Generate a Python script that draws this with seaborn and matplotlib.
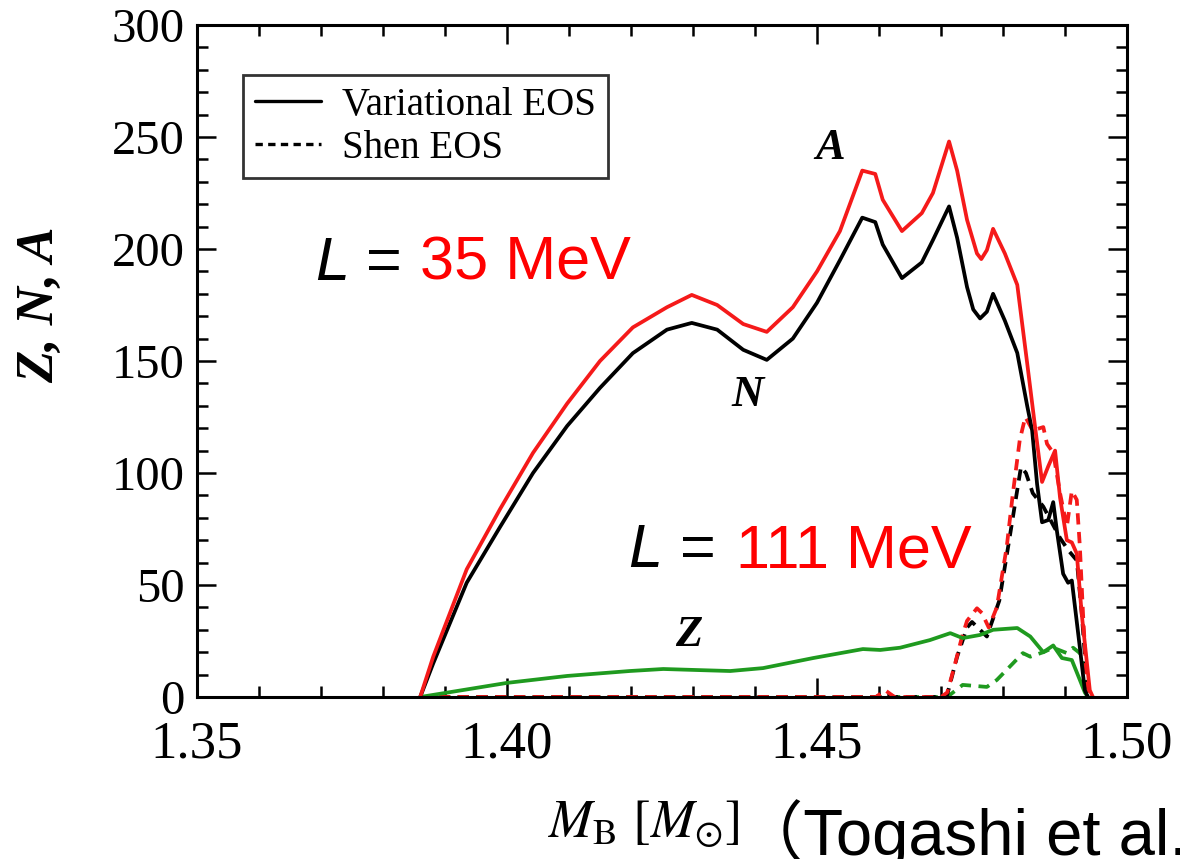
import numpy as np
import pandas as pd
import matplotlib
matplotlib.use("Agg")
import matplotlib.pyplot as plt
import seaborn as sns
from matplotlib.ticker import MultipleLocator
from matplotlib.lines import Line2D

# ---- data: baryon mass M_B [M_sun] vs nuclear numbers ----
# Variational EOS, L = 35 MeV
var_A_mass = [1.3860, 1.3881, 1.3935, 1.3989, 1.4042, 1.4097, 1.4150, 1.4203, 1.4258, 1.4298,
              1.4339, 1.4381, 1.4419, 1.4461, 1.4500, 1.4537, 1.4573, 1.4594, 1.4606, 1.4637,
              1.4669, 1.4687, 1.4713, 1.4726, 1.4742, 1.4758, 1.4765, 1.4774, 1.4784, 1.4803,
              1.4823, 1.4839, 1.4852, 1.4863, 1.4873, 1.4884, 1.4892, 1.4903, 1.4911, 1.4919,
              1.4927, 1.4940, 1.4945]
var_A = [0, 18, 57, 84, 109, 131, 150, 165, 174, 179.5,
         175, 166.5, 163, 174, 190, 208, 235, 233.5, 222, 208,
         216, 225, 248, 235, 213, 198, 195.5, 199.5, 209, 198,
         184, 149, 120, 96, 103, 110, 89, 70, 69, 64,
         37, 3, 0]

var_N_mass = [1.3860, 1.3881, 1.3935, 1.3989, 1.4042, 1.4097, 1.4150, 1.4203, 1.4258, 1.4298,
              1.4339, 1.4381, 1.4419, 1.4461, 1.4500, 1.4537, 1.4573, 1.4594, 1.4606, 1.4637,
              1.4669, 1.4687, 1.4713, 1.4726, 1.4742, 1.4752, 1.4763, 1.4774, 1.4784, 1.4803,
              1.4823, 1.4839, 1.4847, 1.4855, 1.4863, 1.4873, 1.4881, 1.4887, 1.4897, 1.4905,
              1.4911, 1.4924, 1.4932, 1.4937]
var_N = [0, 15, 51, 76, 100, 121, 138, 153.5, 164, 167,
         164, 155, 150.5, 160, 176, 195, 214, 212, 202, 187,
         194, 204, 219, 205, 183, 173, 169, 172, 180, 168,
         153.6, 130, 119, 95, 78, 79, 87, 74, 55, 51,
         52, 22, 3, 0]

var_Z_mass = [1.3860, 1.4000, 1.4097, 1.4198, 1.4252, 1.4311, 1.4360, 1.4413, 1.4494, 1.4574,
              1.4602, 1.4634, 1.4682, 1.4715, 1.4735, 1.4763, 1.4784, 1.4823, 1.4844, 1.4865,
              1.4881, 1.4895, 1.4911, 1.4924, 1.4932, 1.4937]
var_Z = [0, 6.3, 9.4, 11.6, 12.5, 12, 11.6, 12.9, 17.4, 21.4,
         21, 22, 25.4, 28.5, 26.3, 27.7, 30, 30.8, 27, 20,
         23, 17.4, 16.5, 7.6, 2, 0]

# Shen EOS, L = 111 MeV
shen_A_mass = [1.3860, 1.4595, 1.4610, 1.4625, 1.4700, 1.4710, 1.4721, 1.4734, 1.4742, 1.4758,
               1.4766, 1.4777, 1.4790, 1.4806, 1.4816, 1.4827, 1.4836, 1.4848, 1.4865, 1.4871,
               1.4881, 1.4892, 1.4903, 1.4911, 1.4919, 1.4924, 1.4929, 1.4935, 1.4940]
shen_A = [0, 0, 3, 0, 0, 2, 13, 27, 34, 39.6,
          37.5, 31, 40, 67, 91, 114.7, 125, 119, 120.5, 113,
          109, 91, 76, 92, 88, 67, 37.5, 7.6, 0]

shen_N_mass = [1.3860, 1.4595, 1.4610, 1.4625, 1.4700, 1.4710, 1.4726, 1.4742, 1.4750, 1.4763,
               1.4774, 1.4794, 1.4810, 1.4821, 1.4829, 1.4837, 1.4848, 1.4865, 1.4892, 1.4905,
               1.4919, 1.4927, 1.4935, 1.4940]
shen_N = [0, 0, 2, 0, 0, 1, 18, 31, 33.5, 30,
          27, 43, 70, 89, 102.7, 100, 91, 85, 71, 65.6,
          61, 37.5, 7.6, 0]

shen_Z_mass = [1.3860, 1.4710, 1.4735, 1.4774, 1.4790, 1.4816, 1.4832, 1.4844, 1.4865, 1.4881,
               1.4903, 1.4913, 1.4924, 1.4932, 1.4940]
shen_Z = [0, 0, 5.4, 4.5, 7.6, 15, 19.6, 18, 20, 22,
          19.6, 22, 19.6, 12, 0]

x_ticks = [1.35, 1.40, 1.45, 1.50]
y_ticks = [0, 50, 100, 150, 200, 250, 300]

RED = "#f51a1a"
GREEN = "#1f9a1f"
BLACK = "#000000"

sns.set_theme(style="ticks")
plt.rcParams.update({
    "font.family": ["Liberation Serif", "DejaVu Serif"],
    "mathtext.fontset": "stix",
    "text.color": "black",
    "axes.labelcolor": "black",
    "xtick.color": "black",
    "ytick.color": "black",
    "axes.edgecolor": "black",
})

fig = plt.figure(figsize=(11.8, 8.59), dpi=100)
ax = fig.add_axes([197 / 1180, 1 - 697 / 859, (1127 - 197) / 1180, (697 - 25) / 859])

LW = 2.7
series = [
    (shen_Z_mass, shen_Z, GREEN, (3, 2)),
    (shen_N_mass, shen_N, BLACK, (3, 2)),
    (shen_A_mass, shen_A, RED, (3, 2)),
    (var_Z_mass, var_Z, GREEN, None),
    (var_N_mass, var_N, BLACK, None),
    (var_A_mass, var_A, RED, None),
]
for xs, ys, col, dash in series:
    df = pd.DataFrame({"M": xs, "val": ys})
    sns.lineplot(data=df, x="M", y="val", ax=ax, color=col, lw=LW,
                 estimator=None, sort=False, legend=False)
    ln = ax.lines[-1]
    if dash is not None:
        ln.set_dashes(dash)
    ln.set_solid_joinstyle("round")

ax.set_xlim(1.35, 1.50)
ax.set_ylim(0, 300)
ax.set_xticks(x_ticks)
ax.set_xticklabels([f"{v:.2f}" for v in x_ticks])
ax.set_yticks(y_ticks)
ax.set_yticklabels([str(v) for v in y_ticks])
ax.xaxis.set_minor_locator(MultipleLocator(0.01))
ax.yaxis.set_minor_locator(MultipleLocator(10))
ax.set_xlabel("")
ax.set_ylabel("")

for s in ax.spines.values():
    s.set_visible(True)
    s.set_linewidth(2.2)
    s.set_color("black")
ax.tick_params(which="both", direction="in", top=True, right=True, color="black", width=1.8)
ax.tick_params(which="major", length=14)
ax.tick_params(which="minor", length=8)
ax.tick_params(axis="x", which="major", labelsize=38, pad=17, labelcolor="black")
ax.tick_params(axis="y", which="major", labelsize=35, pad=9, labelcolor="black")

# legend
handles = [Line2D([], [], color=BLACK, lw=2.4),
           Line2D([], [], color=BLACK, lw=2.4, dashes=(2.2, 1.6))]
leg = ax.legend(handles, ["Variational EOS", "Shen EOS"], loc="upper left",
                bbox_to_anchor=(46 / 930, 1 - 50 / 672), fontsize=28, frameon=True,
                fancybox=False, handlelength=1.7, handletextpad=0.55, borderpad=0.3,
                labelspacing=0.15, borderaxespad=0)
leg.get_frame().set_edgecolor("black")
leg.get_frame().set_linewidth(2.0)
for t in leg.get_texts():
    t.set_color("black")

# curve labels
lab_kw = dict(fontsize=32, fontweight="bold", fontstyle="italic", ha="center", va="center",
              color="black")
fig.text(830 / 1180, 1 - 148 / 859, "A", **lab_kw)
fig.text(747 / 1180, 1 - 395 / 859, "N", **lab_kw)
fig.text(689 / 1180, 1 - 635 / 859, "Z", **lab_kw)

# symmetry-energy slope annotations
sans = ["Liberation Sans", "DejaVu Sans"]
fig.text(315 / 1180, 1 - 280 / 859, "L", family=sans, fontstyle="italic", fontsize=44,
         color="black", va="baseline")
fig.text(366 / 1180, 1 - 280 / 859, "=", family=sans, fontsize=44, color="black", va="baseline")
fig.text(420 / 1180, 1 - 280 / 859, "35 MeV", family=sans, fontsize=44, color="red", va="baseline")
fig.text(628 / 1180, 1 - 567 / 859, "L", family=sans, fontstyle="italic", fontsize=44,
         color="black", va="baseline")
fig.text(680 / 1180, 1 - 567 / 859, "=", family=sans, fontsize=44, color="black", va="baseline")
fig.text(736 / 1180, 1 - 567 / 859, "111 MeV", family=sans, fontsize=44, color="red", va="baseline")

# axis titles
fig.text(40 / 1180, 1 - 305 / 859, "Z, N, A", rotation=90, fontsize=38, fontweight="bold",
         fontstyle="italic", ha="center", va="center", color="black")
fig.text(548 / 1180, 1 - 838 / 859, r"$M_{\mathrm{B}}\ [M_{\odot}]$", fontsize=38,
         ha="left", va="baseline", color="black")
fig.text(738 / 1180, 1 - 855 / 859, "（Togashi et al.)",
         family=["Liberation Sans", "Noto Sans CJK JP", "DejaVu Sans"], fontsize=47,
         ha="left", va="baseline", color="black")

fig.savefig("out.png", dpi=100)
